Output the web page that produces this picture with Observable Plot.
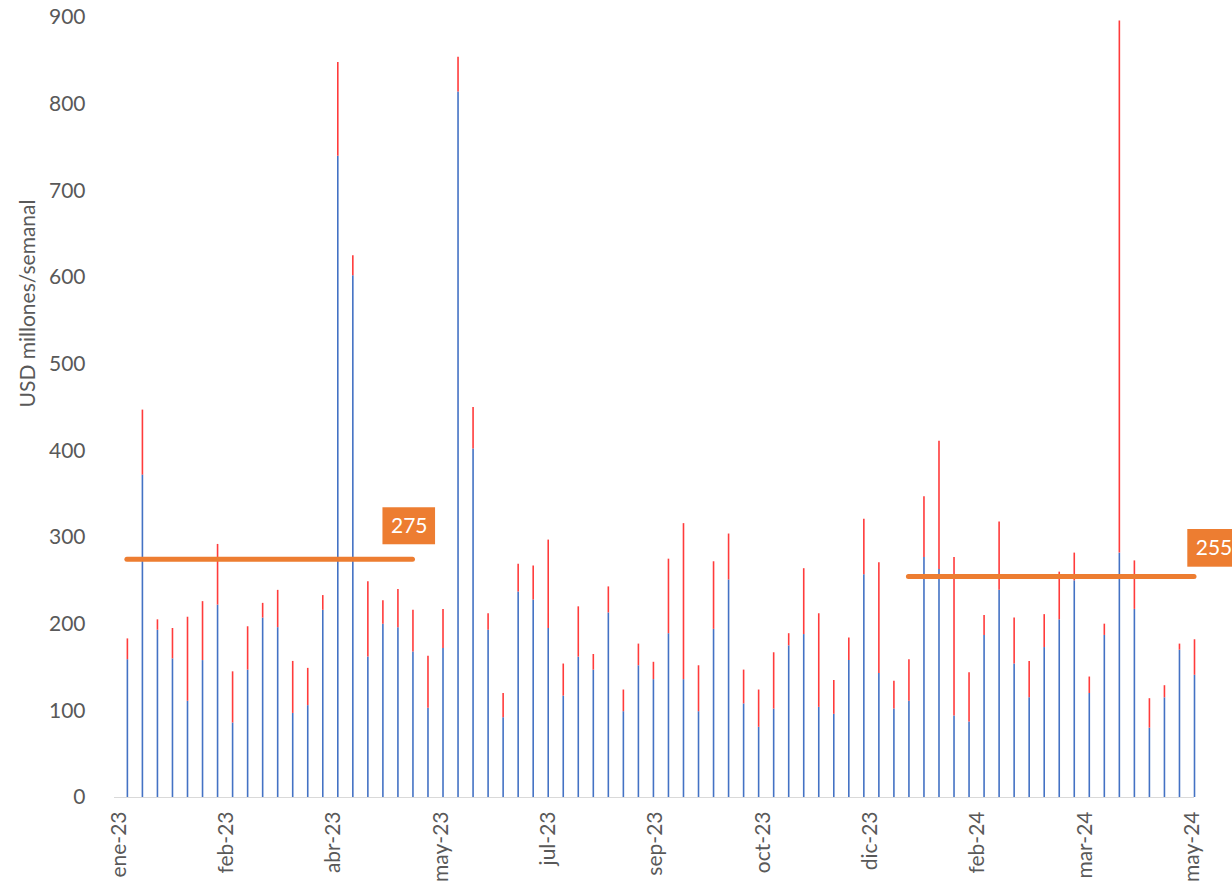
<!DOCTYPE html>
<html>
<head>
<meta charset="utf-8">
<script src="https://cdn.jsdelivr.net/npm/d3@7"></script>
<script src="https://cdn.jsdelivr.net/npm/@observablehq/plot@0.6"></script>
<style>
  html, body { margin: 0; padding: 0; background: #fff; overflow: hidden; }
  #chart svg { display: block; }
</style>
</head>
<body>
<div id="chart"></div>
<script>
// Weekly categories: 72 weeks starting 5 Jan 2023
const firstWeek = "2023-01-05";
const weekCount = 72;

// Lower (blue) component, USD millones/semana
const blueValues = [
  159, 372, 193, 160, 111, 158, 222, 86, 147, 207,
  196, 97, 106, 216, 740, 602, 162, 200, 196, 168,
  103, 172, 814, 402, 193, 92, 237, 228, 195, 117,
  162, 147, 213, 99, 152, 136, 189, 136, 99, 194,
  251, 108, 81, 102, 175, 188, 104, 96, 158, 257,
  143, 102, 111, 277, 263, 94, 87, 187, 239, 154,
  115, 173, 205, 250, 120, 187, 282, 217, 80, 115,
  170, 141
];

// Upper (red) component, stacked on the blue one
const redValues = [
  24, 75, 12, 35, 97, 68, 70, 59, 50, 17,
  43, 60, 43, 17, 108, 23, 87, 27, 44, 48,
  60, 45, 40, 48, 19, 28, 32, 39, 102, 37,
  58, 18, 30, 25, 25, 20, 86, 180, 53, 78,
  53, 39, 43, 65, 14, 76, 108, 39, 26, 64,
  128, 32, 48, 70, 148, 183, 57, 23, 79, 53,
  42, 38, 55, 32, 19, 13, 614, 56, 34, 14,
  7, 41
];

// Period averages (orange lines)
const avgValues = [275, 255];
const avgStartWeek = [0, 52];
const avgEndWeek = [19, 71];
const avgLabels = ["275", "255"];

// X axis ticks
const tickDates = ["2023-01-01", "2023-02-20", "2023-04-11", "2023-05-31", "2023-07-20",
                   "2023-09-08", "2023-10-28", "2023-12-17", "2024-02-05", "2024-03-26", "2024-05-15"];
const tickLabels = ["ene-23", "feb-23", "abr-23", "may-23", "jul-23",
                    "sep-23", "oct-23", "dic-23", "feb-24", "mar-24", "may-24"];
const yTicks = [0, 100, 200, 300, 400, 500, 600, 700, 800, 900];
const yTitle = "USD millones/semanal";

// ---- build tables ----
const start = new Date(firstWeek + "T00:00:00Z");
const weeks = d3.range(weekCount).map(i => d3.utcDay.offset(start, 7 * i));
const rows = weeks.map((d, i) => ({
  date: d, blue: blueValues[i], red: redValues[i], total: blueValues[i] + redValues[i]
}));
const avgRows = avgValues.map((v, k) => ({
  x1: weeks[avgStartWeek[k]], x2: weeks[avgEndWeek[k]], value: v, label: avgLabels[k]
}));
const tickDateObjs = tickDates.map(s => new Date(s + "T00:00:00Z"));

const grey = "#595959";
const orange = "#ED7D31";

const chart = Plot.plot({
  width: 1232,
  height: 886,
  marginTop: 17,
  marginBottom: 89,
  marginLeft: 114,
  marginRight: 38,
  style: { fontFamily: "Lato, 'Open Sans', sans-serif", fontSize: "21px", color: grey, background: "#fff" },
  x: {
    type: "utc",
    domain: [new Date("2022-12-30T00:00:00Z"), weeks[weeks.length - 1]],
    ticks: tickDateObjs,
    tickFormat: d => tickLabels[tickDateObjs.findIndex(t => +t === +d)],
    tickRotate: -90,
    tickSize: 0,
    tickPadding: 14,
    label: null
  },
  y: {
    domain: [0, 900],
    ticks: yTicks,
    tickSize: 0,
    tickPadding: 29,
    label: null
  },
  marks: [
    Plot.ruleY([0], { stroke: "#d9d9d9", strokeWidth: 1.2 }),
    Plot.ruleX(rows, { x: "date", y1: 0, y2: "blue", stroke: "#4472C4", strokeWidth: 1.6 }),
    Plot.ruleX(rows, { x: "date", y1: "blue", y2: "total", stroke: "#FF3B3B", strokeWidth: 1.6 }),
    Plot.ruleY(avgRows, { x1: "x1", x2: "x2", y: "value", stroke: orange, strokeWidth: 5, strokeLinecap: "round" }),
    // label boxes
    Plot.rect([avgRows[0]], { x1: "x2", x2: "x2", y1: "value", y2: "value", fill: orange,
      insetLeft: -30, insetRight: -22.6, insetTop: -51.4, insetBottom: 14.4 }),
    Plot.text([avgRows[0]], { x: "x2", y: "value", text: "label", fill: "#fff", fontSize: 21,
      dx: -3.7, dy: -32.9 }),
    Plot.rect([avgRows[1]], { x1: "x2", x2: "x2", y1: "value", y2: "value", fill: orange,
      insetLeft: -6.7, insetRight: -50, insetTop: -47, insetBottom: 9.3 }),
    Plot.text([avgRows[1]], { x: "x2", y: "value", text: "label", fill: "#fff", fontSize: 21,
      dx: 19.5, dy: -28 }),
    // y axis title
    Plot.text([yTitle], { frameAnchor: "left", textAnchor: "middle", text: d => d, rotate: -90,
      fill: grey, fontSize: 21, dx: -86.5, dy: -104 })
  ]
});

document.getElementById("chart").appendChild(chart);
</script>
</body>
</html>
